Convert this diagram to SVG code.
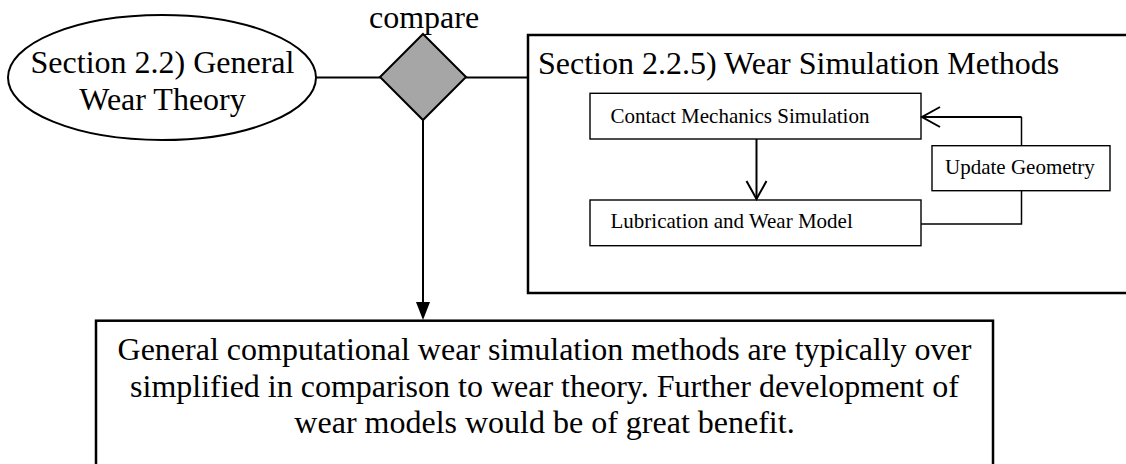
<svg xmlns="http://www.w3.org/2000/svg" width="1126" height="464" viewBox="0 0 1126 464">
<style>
text{font-family:"Liberation Serif","Times New Roman",serif;fill:#000}
.big{font-size:32px}
.small{font-size:21px}
.thick{fill:#fff;stroke:#000;stroke-width:2.5}
.thin{fill:#fff;stroke:#000;stroke-width:1.4}
.ln{fill:none;stroke:#000;stroke-width:2}
.lt{fill:none;stroke:#000;stroke-width:1.5}
</style>
<rect width="1126" height="464" fill="#fff"/>
<g id="general-wear-theory">
<ellipse cx="162" cy="77.5" rx="154" ry="62.5" fill="#fff" stroke="#000" stroke-width="2"/>
<text class="big" x="162.5" y="73" text-anchor="middle">Section 2.2) General</text>
<text class="big" x="162.5" y="110" text-anchor="middle">Wear Theory</text>
</g>
<g id="compare">
<polygon points="423,34 466,77 423,120 380,77" fill="#a6a6a6" stroke="#000" stroke-width="2"/>
<text class="big" x="424" y="28" text-anchor="middle">compare</text>
</g>
<g id="wear-simulation-methods">
<rect class="thick" x="528" y="35" width="620" height="258"/>
<text class="big" x="538" y="74">Section 2.2.5) Wear Simulation Methods</text>
</g>
<g id="contact-mechanics">
<rect class="thin" x="590" y="93.3" width="331" height="45.7"/>
<text class="small" x="610.5" y="122.5">Contact Mechanics Simulation</text>
</g>
<g id="lubrication-wear">
<rect class="thin" x="590" y="200" width="331" height="45.7"/>
<text class="small" x="610.5" y="228">Lubrication and Wear Model</text>
</g>
<g id="update-geometry">
<rect class="thin" x="932" y="145.7" width="178" height="45"/>
<text class="small" x="945" y="174">Update Geometry</text>
</g>
<g id="conclusion">
<rect class="thick" x="96" y="320.7" width="897" height="160"/>
<text class="big" x="544.5" y="360" text-anchor="middle">General computational wear simulation methods are typically over</text>
<text class="big" x="544.5" y="396.5" text-anchor="middle">simplified in comparison to wear theory. Further development of</text>
<text class="big" x="544.5" y="433" text-anchor="middle">wear models would be of great benefit.</text>
</g>
<g id="connectors">
<line class="ln" x1="316" y1="77.5" x2="380" y2="77.5"/>
<line class="ln" x1="466" y1="77.5" x2="528" y2="77.5"/>
<line class="ln" x1="423" y1="120" x2="423" y2="304"/>
<path d="M416,302 L430,302 L423,320 Z" fill="#000"/>
<line class="ln" x1="756.5" y1="139" x2="756.5" y2="199"/>
<polyline class="ln" points="746.5,181 756.5,199 766.5,181"/>
<polyline class="lt" points="921,224 1021.5,224 1021.5,190.7"/>
<line class="lt" x1="1021.5" y1="145.7" x2="1021.5" y2="117"/>
<line class="ln" x1="1021.5" y1="117" x2="922" y2="117"/>
<polyline class="ln" points="940,107 922,117 940,127"/>
</g>
</svg>
